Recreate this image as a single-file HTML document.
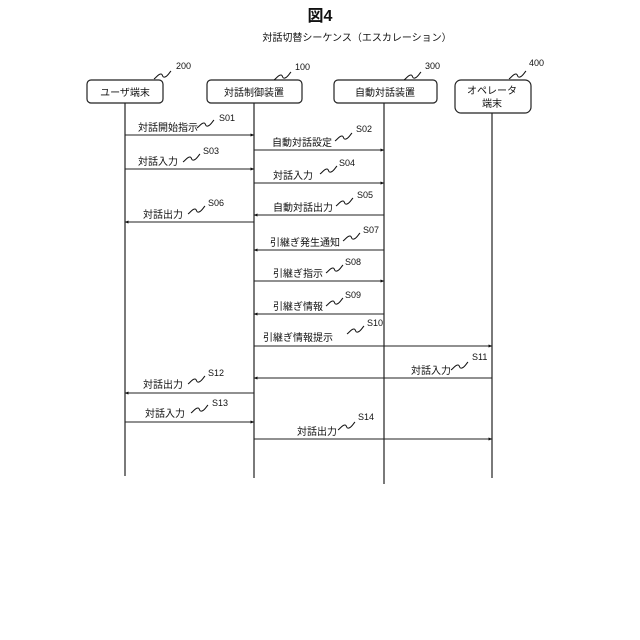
<!DOCTYPE html>
<html><head><meta charset="utf-8"><style>
html,body{margin:0;padding:0;background:#fff;width:640px;height:640px;overflow:hidden}
svg text{font-family:"Liberation Sans","Noto Sans CJK JP",sans-serif;fill:#111}
</style></head><body>
<svg width="640" height="640" viewBox="0 0 640 640" xmlns="http://www.w3.org/2000/svg">
<defs>
<marker id="a" markerWidth="4" markerHeight="4" refX="3.5" refY="2" orient="auto" markerUnits="userSpaceOnUse"><path d="M0,0.5 L4,2 L0,3.5 z" fill="#111"/></marker>
<path id="sq" d="M0,0 C3,-2 4,-5 7,-5 C9,-5 8,-1 11,-2 C14,-3 15,-6 17,-8" fill="none" stroke="#111" stroke-width="1"/>
</defs>
<text x="320" y="21" font-size="16" font-weight="bold" text-anchor="middle">図4</text>
<text x="357" y="41" font-size="10" text-anchor="middle">対話切替シーケンス（エスカレーション）</text>

<g fill="#fff" stroke="#222" stroke-width="1.2">
<rect x="87" y="80" width="76" height="23" rx="4"/>
<rect x="207" y="80" width="95" height="23" rx="4"/>
<rect x="334" y="80" width="103" height="23" rx="4"/>
<rect x="455" y="80" width="76" height="33" rx="6"/>
</g>
<g font-size="10" text-anchor="middle">
<text x="125" y="96">ユーザ端末</text>
<text x="254" y="96">対話制御装置</text>
<text x="385" y="96">自動対話装置</text>
<text x="492" y="94">オペレータ</text>
<text x="492" y="107">端末</text>
</g>
<g font-size="9">
<use href="#sq" x="154" y="79" transform="scale(1)"/><text x="176" y="69">200</text>
<use href="#sq" x="274" y="80"/><text x="295" y="70">100</text>
<use href="#sq" x="404" y="80"/><text x="425" y="69">300</text>
<use href="#sq" x="509" y="79"/><text x="529" y="66">400</text>
</g>

<g stroke="#222" stroke-width="1.2">
<line x1="125" y1="103" x2="125" y2="476"/>
<line x1="254" y1="103" x2="254" y2="478"/>
<line x1="384" y1="103" x2="384" y2="484"/>
<line x1="492" y1="113" x2="492" y2="478"/>
</g>

<g stroke="#222" stroke-width="1" marker-end="url(#a)">
<line x1="125" y1="135" x2="254" y2="135"/>
<line x1="254" y1="150" x2="384" y2="150"/>
<line x1="125" y1="169" x2="254" y2="169"/>
<line x1="254" y1="183" x2="384" y2="183"/>
<line x1="384" y1="215" x2="254" y2="215"/>
<line x1="254" y1="222" x2="125" y2="222"/>
<line x1="384" y1="250" x2="254" y2="250"/>
<line x1="254" y1="281" x2="384" y2="281"/>
<line x1="384" y1="314" x2="254" y2="314"/>
<line x1="254" y1="346" x2="492" y2="346"/>
<line x1="492" y1="378" x2="254" y2="378"/>
<line x1="254" y1="393" x2="125" y2="393"/>
<line x1="125" y1="422" x2="254" y2="422"/>
<line x1="254" y1="439" x2="492" y2="439"/>
</g>

<g font-size="10">
<text x="138" y="131">対話開始指示</text><use href="#sq" x="197" y="128"/><text x="219" y="121" font-size="9">S01</text>
<text x="272" y="146">自動対話設定</text><use href="#sq" x="335" y="141"/><text x="356" y="132" font-size="9">S02</text>
<text x="138" y="165">対話入力</text><use href="#sq" x="183" y="162"/><text x="203" y="154" font-size="9">S03</text>
<text x="273" y="179">対話入力</text><use href="#sq" x="320" y="174"/><text x="339" y="166" font-size="9">S04</text>
<text x="273" y="211">自動対話出力</text><use href="#sq" x="336" y="206"/><text x="357" y="198" font-size="9">S05</text>
<text x="143" y="218">対話出力</text><use href="#sq" x="188" y="214"/><text x="208" y="206" font-size="9">S06</text>
<text x="270" y="246">引継ぎ発生通知</text><use href="#sq" x="343" y="241"/><text x="363" y="233" font-size="9">S07</text>
<text x="273" y="277">引継ぎ指示</text><use href="#sq" x="326" y="273"/><text x="345" y="265" font-size="9">S08</text>
<text x="273" y="310">引継ぎ情報</text><use href="#sq" x="326" y="306"/><text x="345" y="298" font-size="9">S09</text>
<text x="263" y="341">引継ぎ情報提示</text><use href="#sq" x="347" y="334"/><text x="367" y="326" font-size="9">S10</text>
<text x="411" y="374">対話入力</text><use href="#sq" x="451" y="370"/><text x="472" y="360" font-size="9">S11</text>
<text x="143" y="388">対話出力</text><use href="#sq" x="188" y="384"/><text x="208" y="376" font-size="9">S12</text>
<text x="145" y="417">対話入力</text><use href="#sq" x="191" y="413"/><text x="212" y="406" font-size="9">S13</text>
<text x="297" y="435">対話出力</text><use href="#sq" x="338" y="430"/><text x="358" y="420" font-size="9">S14</text>
</g>
</svg>
</body></html>
